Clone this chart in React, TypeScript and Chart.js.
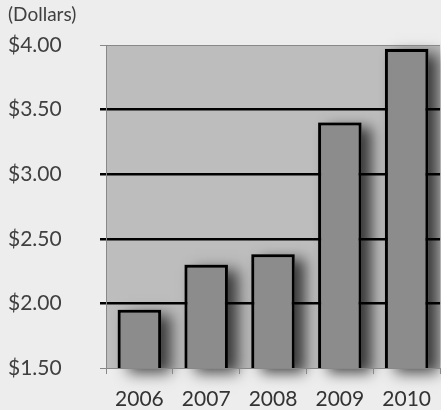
import React, { useEffect, useRef } from "react";
import { Chart, registerables } from "chart.js";
Chart.register(...registerables);

const years = ["2006", "2007", "2008", "2009", "2010"];
const prices = [1.95, 2.3, 2.38, 3.4, 3.97];
const yMin = 1.5;
const yMax = 4.0;
const yStep = 0.5;
const unitLabel = "(Dollars)";

const FONT = "Lato, 'Open Sans', sans-serif";

const bgPlugin = {
  id: "bgPlugin",
  beforeDraw(chart: any) {
    const { ctx, chartArea, width, height } = chart;
    ctx.save();
    ctx.fillStyle = "#ededed";
    ctx.fillRect(0, 0, width, height);
    ctx.fillStyle = "#bdbdbd";
    ctx.fillRect(chartArea.left, chartArea.top, chartArea.right - chartArea.left, chartArea.bottom - chartArea.top);
    ctx.restore();

    // soft drop shadows behind bars (drawn before grid and labels)
    const meta = chart.getDatasetMeta(0);
    ctx.save();
    ctx.beginPath();
    ctx.rect(chartArea.left, 0, width - chartArea.left, height);
    ctx.clip();
    ctx.shadowColor = "rgba(0,0,0,0.7)";
    ctx.shadowBlur = 14;
    ctx.shadowOffsetX = 10;
    ctx.shadowOffsetY = 5;
    ctx.fillStyle = "#777";
    meta.data.forEach((bar: any) => {
      const { x, y, base, width: w } = bar.getProps(["x", "y", "base", "width"], true);
      const bottom = Math.min(base, chartArea.bottom);
      ctx.fillRect(x - w / 2, y, w, bottom - y);
    });
    ctx.restore();
  },
  afterDraw(chart: any) {
    const { ctx } = chart;
    ctx.save();
    ctx.fillStyle = "#404040";
    ctx.font = `19px ${FONT}`;
    ctx.textAlign = "left";
    ctx.textBaseline = "middle";
    ctx.fillText(unitLabel, 8, 15);
    ctx.restore();
  },
};

export default function App() {
  const ref = useRef<HTMLCanvasElement>(null);
  useEffect(() => {
    if (!ref.current) return;
    const isEdge = (v: number) => Math.abs(v - yMax) < 1e-6 || Math.abs(v - yMin) < 1e-6;
    const chart = new Chart(ref.current, {
      type: "bar",
      data: {
        labels: years,
        datasets: [
          {
            data: prices,
            backgroundColor: "#8c8c8c",
            borderColor: "#000",
            borderWidth: 3,
            borderSkipped: false,
            barPercentage: 0.65,
            categoryPercentage: 1,
          },
        ],
      },
      options: {
        animation: false,
        responsive: false,
        maintainAspectRatio: false,
        layout: { padding: { top: 45, left: 8, right: 0, bottom: 0 } },
        plugins: { legend: { display: false }, tooltip: { enabled: false }, title: { display: false } },
        scales: {
          x: {
            grid: { drawOnChartArea: false, color: "#888", tickLength: 6, lineWidth: 1 },
            border: { color: "#888", width: 1 },
            ticks: { color: "#333", font: { family: FONT, size: 21 }, padding: 13 },
            afterFit: (s: any) => { s.height = 42; },
          },
          y: {
            min: yMin,
            max: yMax,
            ticks: {
              stepSize: yStep,
              color: "#404040",
              font: { family: FONT, size: 21 },
              crossAlign: "far",
              callback: (v: any) => "$" + Number(v).toFixed(2),
            },
            grid: {
              color: (c: any) => (isEdge(c.tick.value) ? "#888" : "#000"),
              tickColor: (c: any) => (isEdge(c.tick.value) ? "#888" : "#000"),
              lineWidth: (c: any) => (isEdge(c.tick.value) ? 1 : 2.5),
              tickLength: 6,
            },
            border: { color: "#888", width: 1 },
            afterFit: (s: any) => { s.width = 98; },
          },
        },
      },
      plugins: [bgPlugin],
    });
    return () => chart.destroy();
  }, []);
  return (
    <div style={{ position: "fixed", left: 0, top: 0, width: 441, height: 410, overflow: "hidden", background: "#ededed" }}>
      <canvas ref={ref} width={444} height={410} style={{ display: "block", width: 444, height: 410 }} />
    </div>
  );
}
